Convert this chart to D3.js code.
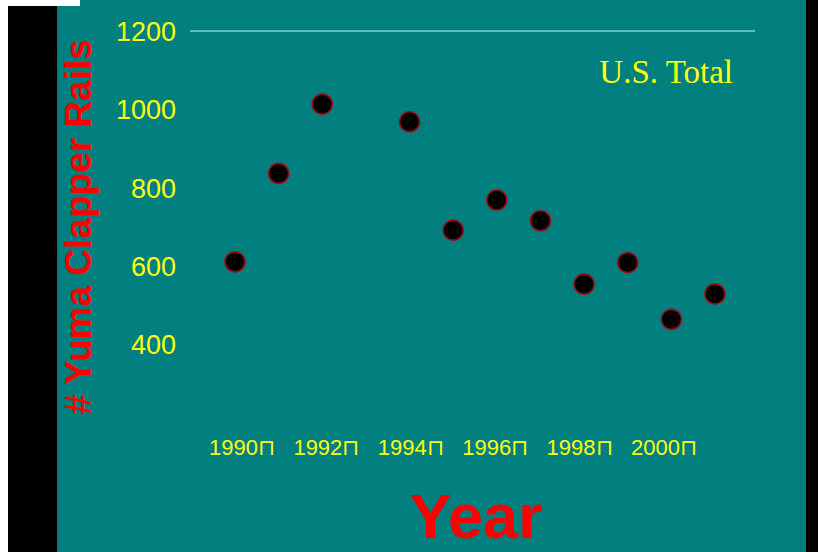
<!DOCTYPE html>
<html>
<head>
<meta charset="utf-8">
<script src="https://cdn.jsdelivr.net/npm/d3@7"></script>
<style>
  html, body { margin: 0; padding: 0; background: #ffffff; }
  svg { display: block; }
</style>
</head>
<body>
<svg id="chart" width="818" height="552"></svg>
<script>
// Yuma Clapper Rail counts, U.S. total
const years  = [1990, 1991, 1992, 1994, 1995, 1996, 1997, 1998, 1999, 2000, 2001];
const counts = [610, 836, 1013, 968, 691, 768, 715, 553, 608, 463, 528];
const yTicks = [400, 600, 800, 1000, 1200];
const xTickYears = [1990, 1992, 1994, 1996, 1998, 2000];
const xTickLabels = ["1990\u2293", "1992\u2293", "1994\u2293", "1996\u2293", "1998\u2293", "2000\u2293"];

const svg = d3.select("#chart");

// slide frame: dark side bands around a teal panel
svg.append("rect").attr("x", 8).attr("y", 0).attr("width", 810).attr("height", 552).attr("fill", "#000");
svg.append("rect").attr("x", 57).attr("y", 0).attr("width", 749).attr("height", 552).attr("fill", "#007f7f");
svg.append("rect").attr("x", 0).attr("y", 0).attr("width", 80).attr("height", 6).attr("fill", "#fff");

const x = d3.scaleLinear().domain([1990, 2001]).range([235, 715]);
const xLab = d3.scaleLinear().domain([1990, 2000]).range([209, 631]);
const y = d3.scaleLinear().domain([0, 1200]).range([500.5, 31]);

// y axis labels with the single rule at the top value
const yAxis = d3.axisLeft(y).tickValues(yTicks).tickSize(0).tickPadding(0).tickFormat(d3.format("d"));
const gy = svg.append("g").attr("transform", "translate(176,0)").call(yAxis);
gy.select(".domain").remove();
gy.selectAll("text")
  .attr("fill", "#ffff10")
  .attr("font-family", "'Liberation Sans', Arial, sans-serif")
  .attr("font-size", 27)
  .attr("dy", "0.36em");

svg.append("line")
  .attr("x1", 190).attr("x2", 755)
  .attr("y1", y(1200)).attr("y2", y(1200))
  .attr("stroke", "#c8f4f4").attr("stroke-width", 1.2);

// x axis year labels
const gx = svg.append("g").attr("transform", "translate(0,455)");
gx.selectAll("text")
  .data(xTickYears)
  .join("text")
  .attr("x", d => xLab(d))
  .attr("y", 0)
  .attr("fill", "#ffff10")
  .attr("font-family", "'Liberation Sans', Arial, sans-serif")
  .attr("font-size", 22)
  .text((d, i) => xTickLabels[i]);

// points
svg.append("g")
  .selectAll("circle")
  .data(years.map((yr, i) => ({ yr, v: counts[i] })))
  .join("circle")
  .attr("cx", d => x(d.yr))
  .attr("cy", d => y(d.v))
  .attr("r", 10)
  .attr("fill", "#000")
  .attr("stroke", "#9a0a1e")
  .attr("stroke-width", 1.6);

// titles
svg.append("text")
  .attr("x", 733).attr("y", 83)
  .attr("text-anchor", "end")
  .attr("fill", "#ffff10")
  .attr("font-family", "'Liberation Serif', 'Times New Roman', serif")
  .attr("font-size", 33)
  .text("U.S. Total");

svg.append("text")
  .attr("transform", "translate(91,227) rotate(-90)")
  .attr("text-anchor", "middle")
  .attr("fill", "#ff0000")
  .attr("font-family", "'Liberation Sans', Arial, sans-serif")
  .attr("font-weight", "bold")
  .attr("font-size", 37)
  .text("# Yuma Clapper Rails");

svg.append("text")
  .attr("x", 476).attr("y", 538)
  .attr("text-anchor", "middle")
  .attr("fill", "#ff0000")
  .attr("font-family", "'Liberation Sans', Arial, sans-serif")
  .attr("font-weight", "bold")
  .attr("font-size", 63)
  .text("Year");
</script>
</body>
</html>
